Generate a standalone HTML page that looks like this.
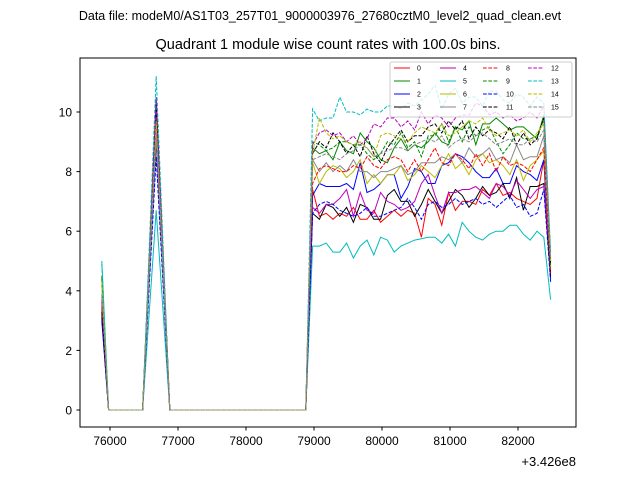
<!DOCTYPE html>
<html><head><meta charset="utf-8"><style>
body{margin:0;background:#fff;font-family:"Liberation Sans","DejaVu Sans",sans-serif}
</style></head><body>
<svg id="c" width="640" height="480" xmlns="http://www.w3.org/2000/svg">
<rect width="640" height="480" fill="#fff"/>
<text x="320" y="20" text-anchor="middle" font-size="12.5">Data file: modeM0/AS1T03_257T01_9000003976_27680cztM0_level2_quad_clean.evt</text>
<text x="328" y="49" text-anchor="middle" font-size="14.5">Quadrant 1 module wise count rates with 100.0s bins.</text>
<g id="plot"></g>
<rect x="80" y="58" width="496" height="369" fill="none" stroke="#000" stroke-width="1"/>
<g id="axes"></g>
<text x="576" y="466" text-anchor="end" font-size="13">+3.426e8</text>
<g id="legend"></g>
</svg>
<script>
const tickX=[76000,77000,78000,79000,80000,81000,82000];
const tickY=[0,2,4,6,8,10];
const colors=['#f00','#080','#00f','#000','#b0b','#0bb','#bb0','#888','#f00','#080','#00f','#000','#b0b','#0bb','#bb0','#888'];
const firstVals=[3.5,4.5,3.0,3.2,3.6,5.0,4.2,3.8,3.4,4.4,3.1,3.3,3.7,4.9,4.3,3.9];
const peakVals=[9.4,10.0,9.0,10.0,10.5,6.7,9.6,9.2,9.8,10.2,8.5,10.3,10.4,11.2,9.7,9.3];
const s0=[7.4,6.5,6.6,6.4,6.6,6.5,6.8,6.4,6.4,6.7,6.3,6.5,6.7,6.5,6.7,6.6,5.8,7.1,6.9,6.2,7.3,6.7,7.0,7.0,6.9,7.4,7.2,7.6,7.2,7.3,7.1,7.0,6.9,7.1,8.4,4.6];
const s1=[8.8,8.6,8.7,8.4,9.0,8.7,8.6,9.3,9.0,8.8,8.4,8.3,8.8,9.1,8.7,8.9,8.8,9.0,9.3,9.0,8.9,9.5,9.4,9.7,8.9,9.6,9.6,9.8,9.6,9.4,9.5,9.5,9.3,9.1,9.9,4.8];
const s2=[7.2,7.6,7.5,7.5,7.5,7.6,7.4,8.3,7.3,7.4,7.6,7.9,7.9,7.1,7.5,8.1,8.0,7.6,7.6,8.2,8.3,8.6,8.5,8.3,8.0,7.8,7.8,8.1,7.6,7.6,8.2,8.0,7.9,7.7,8.4,4.4];
const s3=[6.6,6.4,6.9,6.8,6.5,6.8,6.3,6.9,6.8,6.4,6.4,7.2,7.4,7.0,7.0,6.5,6.9,7.4,7.0,6.6,7.0,7.4,7.2,6.8,7.1,7.5,7.2,7.3,7.6,7.1,7.8,6.7,7.5,7.5,7.6,4.5];
const s4=[6.8,6.6,6.9,6.9,7.1,7.4,6.5,7.3,6.7,6.6,7.3,7.0,6.9,6.7,6.8,7.0,7.6,7.9,7.2,6.6,7.3,7.3,7.4,7.4,7.5,7.3,7.1,7.6,7.5,7.2,7.7,7.4,7.1,7.4,7.5,5.0];
const s5=[5.5,5.5,5.6,5.3,5.3,5.6,5.1,5.5,5.7,5.2,5.8,5.7,5.3,5.5,5.6,5.7,5.75,5.8,5.8,5.6,5.9,5.5,6.3,6.0,5.8,5.7,5.9,6.0,6.0,6.2,6.2,5.9,5.7,6.0,5.8,3.7];
const s6=[8.3,7.6,8.0,8.2,8.1,7.8,8.0,8.4,7.6,7.9,7.6,7.9,7.9,8.2,7.7,7.9,8.2,8.0,7.8,8.2,8.6,8.1,8.3,7.9,8.4,8.6,8.3,8.4,8.2,7.9,8.4,7.7,8.2,8.4,8.7,4.7];
const s7=[8.4,8.0,8.3,8.0,8.2,8.0,8.4,8.0,8.0,7.8,8.0,8.0,8.1,8.2,7.9,8.0,8.3,8.3,8.3,8.5,8.4,8.6,8.3,8.8,8.5,8.6,8.8,8.4,8.5,8.3,8.9,8.4,8.5,8.5,9.2,4.9];
const s8=[7.6,8.1,8.2,8.1,8.0,8.0,8.2,8.1,8.5,8.2,8.1,8.4,8.5,8.4,8.0,8.4,8.0,8.4,8.8,8.3,8.2,8.6,8.4,8.1,8.6,8.2,8.6,8.0,8.5,8.2,8.3,8.2,8.0,8.4,8.8,4.6];
const s9=[9.0,8.9,8.7,8.8,9.0,9.0,8.9,8.9,8.6,8.4,8.6,9.0,8.9,9.3,8.8,9.0,8.5,9.2,9.2,9.6,9.0,9.5,9.0,9.5,9.2,9.4,9.5,9.0,8.6,8.9,9.3,9.1,9.1,9.2,9.8,4.8];
const s10=[6.6,6.9,7.0,6.9,6.7,6.6,6.5,6.6,6.8,6.5,6.5,6.6,6.7,6.8,7.1,6.8,6.4,6.9,7.0,6.8,6.9,7.1,6.9,7.0,7.1,6.9,7.0,6.8,7.0,7.2,6.8,6.9,6.5,6.6,7.4,4.3];
const s11=[8.6,9.0,8.8,9.3,9.0,8.6,8.9,8.5,9.2,8.6,8.3,8.8,9.1,9.4,9.0,9.2,9.2,9.5,9.6,9.3,9.7,9.4,9.7,9.1,9.5,9.2,9.4,9.3,9.1,9.5,8.9,9.3,8.9,9.1,9.8,4.9];
const s12=[8.9,9.3,9.4,9.2,9.3,9.0,9.2,8.9,9.1,9.6,9.5,9.8,9.8,9.5,9.7,9.4,10.0,9.6,9.9,9.8,9.5,9.8,9.9,9.9,10.3,10.2,9.9,10.0,9.8,9.9,9.7,9.8,10.0,9.8,10.2,5.2];
const s13=[10.1,9.7,9.8,9.8,10.5,10.0,10.0,9.9,10.1,10.0,10.0,10.2,10.2,10.1,10.3,10.2,10.4,10.6,10.9,10.1,10.6,10.8,10.3,10.5,10.5,10.2,10.7,10.7,10.4,10.3,10.6,10.5,10.2,10.5,10.3,5.3];
const s14=[8.6,9.8,9.3,9.1,9.2,9.0,8.9,9.0,8.8,8.5,9.2,9.3,9.2,9.1,9.0,9.3,9.5,9.4,9.3,9.6,9.2,9.3,9.5,9.7,9.6,9.8,9.4,9.2,9.3,9.4,9.2,9.4,9.0,9.3,9.6,5.0];
const s15=[8.4,8.5,8.6,8.5,8.4,8.6,8.7,8.9,8.8,8.5,8.6,8.7,8.8,8.8,8.7,8.9,9.0,9.1,9.0,9.2,8.8,9.0,9.1,9.0,9.2,9.3,9.1,8.9,9.0,9.1,8.9,8.9,9.1,9.0,9.4,5.1];
const active=[s0,s1,s2,s3,s4,s5,s6,s7,s8,s9,s10,s11,s12,s13,s14,s15];
const t0=75880, step=100;
const X=t=>110+(t-76000)*0.068;
const Y=v=>410-v*29.8;
const NS='http://www.w3.org/2000/svg';
function mk(tag,attrs,parent){const e=document.createElementNS(NS,tag);for(const k in attrs)e.setAttribute(k,attrs[k]);parent.appendChild(e);return e;}
const plot=document.getElementById('plot');
for(let i=0;i<16;i++){
  const vals=[firstVals[i]];
  for(let k=0;k<6;k++)vals.push(0);
  vals.push(peakVals[i]/2,peakVals[i],peakVals[i]/2);
  for(let k=0;k<21;k++)vals.push(0);
  active[i].forEach(v=>vals.push(v));
  const pts=vals.map((v,k)=>X(t0+k*step).toFixed(1)+','+Y(v).toFixed(1)).join(' ');
  const p=mk('polyline',{points:pts,fill:'none',stroke:colors[i],'stroke-width':1},plot);
  if(i>=8)p.setAttribute('stroke-dasharray','3.7,1.6');
  
  
}
const ax=document.getElementById('axes');
tickX.forEach(t=>{
  const x=X(t);
  mk('line',{x1:x,x2:x,y1:427,y2:430.5,stroke:'#000'},ax);
  const tx=mk('text',{x:x,y:445,'text-anchor':'middle','font-size':12},ax);
  tx.textContent=t;
  
  
});
tickY.forEach(v=>{
  const y=Y(v);
  mk('line',{x1:76.5,x2:80,y1:y,y2:y,stroke:'#000'},ax);
  const tx=mk('text',{x:72,y:y+4.5,'text-anchor':'end','font-size':12},ax);
  tx.textContent=v;
  
  
});
const lg=document.getElementById('legend');
const box=mk('rect',{x:390,y:62,width:182,height:55,fill:'#fff','fill-opacity':0.8,stroke:'#ccc',rx:2},lg);


const colX=[394,440,483,528];
const rowY=[68,81,94,107];
for(let i=0;i<16;i++){
  const c=Math.floor(i/4),r=i%4;
  const ln=mk('line',{x1:colX[c],x2:colX[c]+16,y1:rowY[r],y2:rowY[r],stroke:colors[i],'stroke-width':1},lg);
  if(i>=8)ln.setAttribute('stroke-dasharray','3.7,1.6');
  const tx=mk('text',{x:colX[c]+23,y:rowY[r]+2.5,'font-size':7},lg);
  tx.textContent=i;
  
  
}
</script>
</body></html>
